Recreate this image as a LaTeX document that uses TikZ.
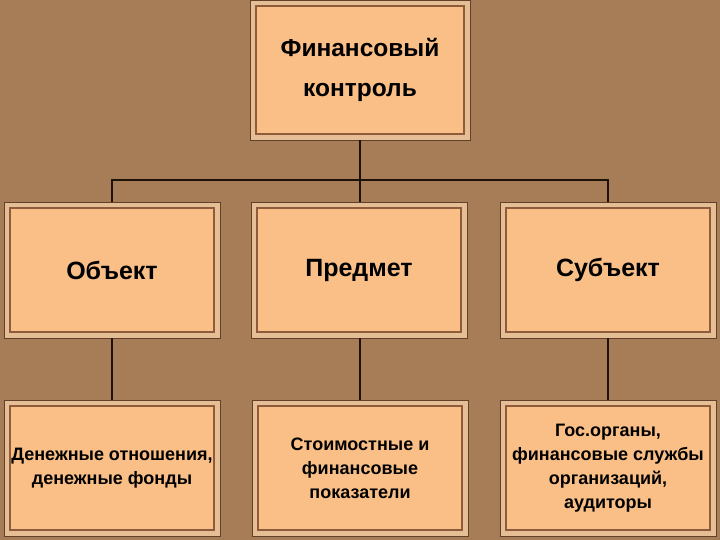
\documentclass[tikz,border=0pt]{standalone}
\usepackage{fontspec}
\setmainfont{Liberation Sans}
\definecolor{bg}{HTML}{A67D57}
\definecolor{boxfill}{HTML}{FABF86}
\definecolor{boxouter}{HTML}{E6BE96}
\definecolor{boxedge}{HTML}{8E5C3A}
\definecolor{conn}{HTML}{1E1208}
\tikzset{
  box/.style={fill=boxouter, draw=boxedge!70!black, line width=0.8pt, inner sep=0pt,
    align=center, font=\bfseries, text=black,
    path picture={\draw[boxedge, line width=1.6pt, fill=boxfill]
      ([shift={(6pt,6pt)}]path picture bounding box.south west) rectangle
      ([shift={(-6pt,-6pt)}]path picture bounding box.north east);}},
  conn/.style={draw=conn, line width=2.8pt},
  bigtxt/.style={font=\bfseries\fontsize{24.5}{40}\selectfont},
  midtxt/.style={font=\bfseries\fontsize{25}{30}\selectfont},
  smalltxt/.style={font=\bfseries\fontsize{18}{24}\selectfont},
}
\begin{document}
\begin{tikzpicture}[x=1pt,y=-1pt]
\fill[bg] (0,0) rectangle (720,540);
\useasboundingbox (0,0) rectangle (720,540);
\node[box, minimum width=220pt, minimum height=140pt, bigtxt] (top) at (360,70) {Финансовый\\контроль};
\node[box, minimum width=216pt, minimum height=136pt, midtxt] (obj) at (112,270) {Объект};
\node[box, minimum width=216pt, minimum height=136pt, midtxt] (pred) at (359,270) {Предмет};
\node[box, minimum width=216pt, minimum height=136pt, midtxt] (subj) at (608,270) {Субъект};
\node[box, minimum width=216pt, minimum height=136pt, smalltxt] (b1) at (112,468) {Денежные отношения,\\денежные фонды};
\node[box, minimum width=216pt, minimum height=136pt, smalltxt] (b2) at (360,468) {Стоимостные и\\финансовые\\показатели};
\node[box, minimum width=216pt, minimum height=136pt, smalltxt] (b3) at (608,468) {Гос.органы,\\финансовые службы\\организаций,\\аудиторы};
\coordinate (hub) at (360,180);
\draw[conn] (top.south) -- (hub);
\draw[conn] (obj.north) |- (hub) -| (subj.north);
\draw[conn] (hub) -- (pred.north -| hub);
\draw[conn] (obj.south) -- (b1.north);
\draw[conn] (pred.south -| hub) -- (b2.north);
\draw[conn] (subj.south) -- (b3.north);
\end{tikzpicture}
\end{document}
